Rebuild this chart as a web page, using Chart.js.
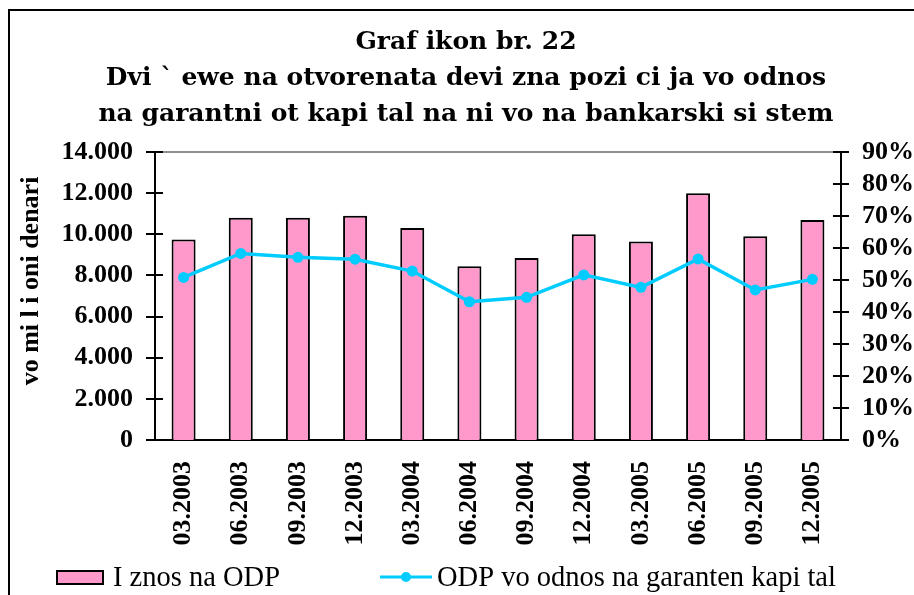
<!DOCTYPE html>
<html>
<head>
<meta charset="utf-8">
<script src="https://cdn.jsdelivr.net/npm/chart.js@4/dist/chart.umd.min.js"></script>
<style>
html,body{margin:0;padding:0;background:#fff;}
#wrap{width:914px;height:595px;position:relative;}
canvas{display:block;}
</style>
</head>
<body>
<div id="wrap"><canvas id="c" width="914" height="595"></canvas></div>
<script>
// ---- data ----
const categories = ['03.2003','06.2003','09.2003','12.2003','03.2004','06.2004','09.2004','12.2004','03.2005','06.2005','09.2005','12.2005'];
const amountODP = [9750, 10800, 10800, 10900, 10300, 8450, 8850, 10000, 9650, 12000, 9900, 10700];
const ratioODP = [50.8, 58.3, 57.1, 56.5, 52.8, 43.2, 44.6, 51.6, 47.7, 56.6, 46.9, 50.2];
const leftTicks = [0, 2000, 4000, 6000, 8000, 10000, 12000, 14000];
const rightTicks = [0, 10, 20, 30, 40, 50, 60, 70, 80, 90];
const titleLines = ['Graf ikon br. 22', 'Dvi ` ewe na otvorenata devi zna pozi ci ja vo odnos', 'na garantni ot kapi tal na ni vo na bankarski si stem'];
const seriesNames = ['I znos na ODP', 'ODP vo odnos na garanten kapi tal'];
const yAxisTitle = 'vo mi l i oni denari';

const barColor = '#FF99CC';
const lineColor = '#00CCFF';
const tickFont = {family: '"Liberation Serif", serif', weight: 'bold', size: 26};

function fmtThousands(v) {
  return String(v).replace(/\B(?=(\d{3})+(?!\d))/g, '.');
}

const decor = {
  id: 'decor',
  beforeDraw(chart) {
    const ctx = chart.ctx;
    ctx.save();
    ctx.fillStyle = '#fff';
    ctx.fillRect(0, 0, chart.width, chart.height);
    // outer frame (left and top edges visible)
    ctx.strokeStyle = '#000';
    ctx.lineWidth = 2;
    ctx.beginPath();
    ctx.moveTo(9, chart.height + 2);
    ctx.lineTo(9, 10);
    ctx.lineTo(chart.width + 2, 10);
    ctx.stroke();
    // title
    ctx.fillStyle = '#000';
    ctx.font = 'bold 25px "DejaVu Serif", serif';
    ctx.textAlign = 'center';
    ctx.textBaseline = 'alphabetic';
    const base = [49, 85, 121];
    titleLines.forEach((t, i) => ctx.fillText(t, 466, base[i]));
    // y axis title
    ctx.save();
    ctx.translate(38, 281);
    ctx.rotate(-Math.PI / 2);
    ctx.font = 'bold 26px "Liberation Serif", serif';
    ctx.textAlign = 'center';
    ctx.fillText(yAxisTitle, 0, 0);
    ctx.restore();
    ctx.restore();
  },
  beforeDatasetsDraw(chart) {
    const {ctx, chartArea} = chart;
    ctx.save();
    ctx.strokeStyle = '#909090';
    ctx.lineWidth = 2;
    ctx.beginPath();
    ctx.moveTo(chartArea.left, chartArea.top);
    ctx.lineTo(chartArea.right, chartArea.top);
    ctx.stroke();
    ctx.restore();
  },
  afterDraw(chart) {
    const {ctx, chartArea, scales} = chart;
    ctx.save();
    ctx.strokeStyle = '#000';
    ctx.lineWidth = 2;
    // cross ticks on both value axes
    leftTicks.forEach(v => {
      const y = Math.round(scales.y.getPixelForValue(v));
      ctx.beginPath();
      ctx.moveTo(chartArea.left - 9, y);
      ctx.lineTo(chartArea.left + 8, y);
      ctx.stroke();
    });
    rightTicks.forEach(v => {
      const y = Math.round(scales.y1.getPixelForValue(v));
      ctx.beginPath();
      ctx.moveTo(chartArea.right - 8, y);
      ctx.lineTo(chartArea.right + 8, y);
      ctx.stroke();
    });
    // legend
    const ds = chart.data.datasets;
    const ly = 577;
    ctx.fillStyle = ds[0].backgroundColor;
    ctx.fillRect(57, 571, 46, 13);
    ctx.strokeStyle = '#000';
    ctx.lineWidth = 2;
    ctx.strokeRect(57, 571, 46, 13);
    ctx.fillStyle = '#000';
    ctx.font = '28.5px "Liberation Serif", serif';
    ctx.textAlign = 'left';
    ctx.textBaseline = 'alphabetic';
    ctx.fillText(ds[0].label, 113, 586);
    ctx.strokeStyle = ds[1].borderColor;
    ctx.lineWidth = 3;
    ctx.beginPath();
    ctx.moveTo(380, ly);
    ctx.lineTo(432, ly);
    ctx.stroke();
    ctx.fillStyle = ds[1].borderColor;
    ctx.beginPath();
    ctx.arc(406, ly, 5, 0, Math.PI * 2);
    ctx.fill();
    ctx.fillStyle = '#000';
    ctx.fillText(ds[1].label, 437, 586);
    ctx.restore();
  }
};

new Chart(document.getElementById('c'), {
  data: {
    labels: categories,
    datasets: [
      {
        type: 'bar',
        label: seriesNames[0],
        data: amountODP,
        yAxisID: 'y',
        backgroundColor: barColor,
        borderColor: '#000',
        borderWidth: 2,
        barPercentage: 0.42,
        categoryPercentage: 1,
        order: 2
      },
      {
        type: 'line',
        label: seriesNames[1],
        data: ratioODP,
        yAxisID: 'y1',
        borderColor: lineColor,
        backgroundColor: lineColor,
        borderWidth: 3.5,
        pointRadius: 5.5,
        pointBorderWidth: 0,
        pointBackgroundColor: lineColor,
        tension: 0,
        order: 1
      }
    ]
  },
  options: {
    responsive: false,
    animation: false,
    devicePixelRatio: 1,
    layout: {padding: {top: 152, left: 0, right: 0, bottom: 0}},
    plugins: {
      legend: {display: false},
      title: {display: false},
      tooltip: {enabled: false}
    },
    scales: {
      x: {
        grid: {display: false, drawTicks: false},
        border: {display: true, color: '#000', width: 2},
        ticks: {
          autoSkip: false, maxRotation: 90, minRotation: 90, padding: 21,
          color: '#000', font: tickFont
        },
        afterFit(s) { s.height = 155; }
      },
      y: {
        position: 'left',
        min: 0, max: 14000,
        afterBuildTicks(s) { s.ticks = leftTicks.map(v => ({value: v})); },
        grid: {display: false, drawTicks: false},
        border: {display: true, color: '#000', width: 2},
        ticks: {
          autoSkip: false,
          padding: 22, color: '#000', font: tickFont,
          callback: v => fmtThousands(v)
        },
        afterFit(s) { s.width = 155; }
      },
      y1: {
        position: 'right',
        min: 0, max: 90,
        afterBuildTicks(s) { s.ticks = rightTicks.map(v => ({value: v})); },
        grid: {display: false, drawTicks: false},
        border: {display: true, color: '#000', width: 2},
        ticks: {
          autoSkip: false,
          padding: 21, color: '#000', font: tickFont,
          callback: v => v + '%'
        },
        afterFit(s) { s.width = 73; }
      }
    }
  },
  plugins: [decor]
});
</script>
</body>
</html>
